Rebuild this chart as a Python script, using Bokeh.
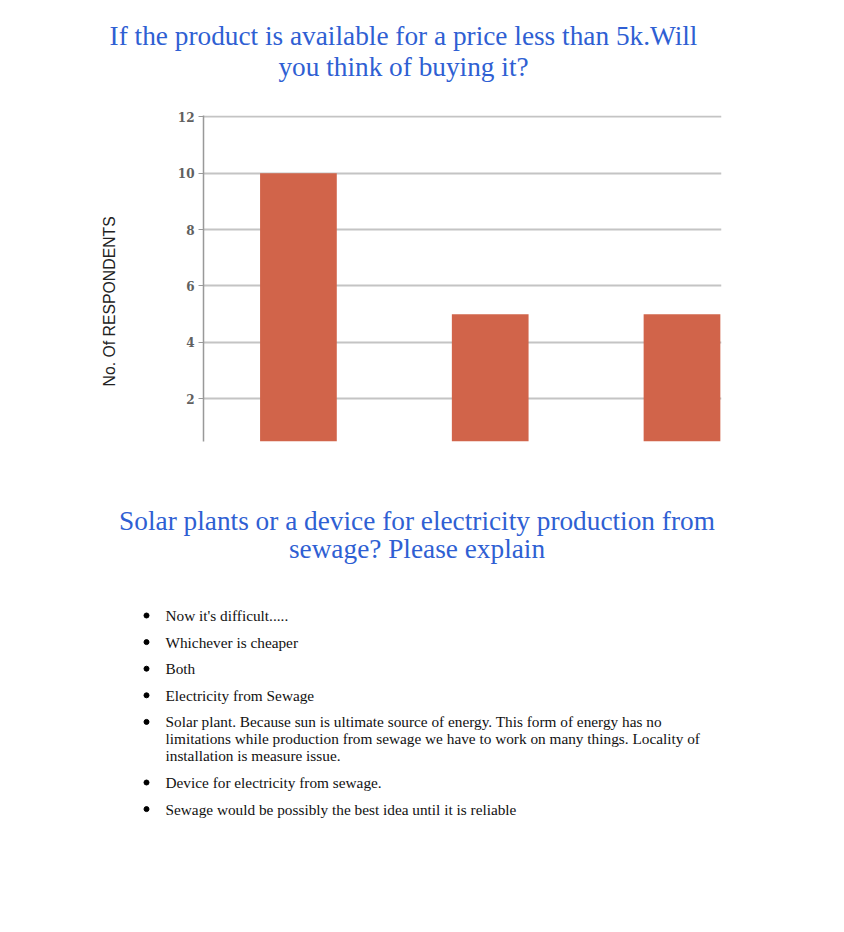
from bokeh.plotting import figure
from bokeh.models import Range1d, FixedTicker, Title
from bokeh.embed import file_html
from bokeh.resources import INLINE
from bokeh.core.properties import value

# ---------------- data ----------------
title1_lines = ["If the product is available for a price less than 5k.Will",
                "you think of buying it?"]
categories = ["Option 1", "Option 2", "Option 3"]
respondents = [10, 5, 5]
y_ticks = [2, 4, 6, 8, 10, 12]
y_label = "No. Of RESPONDENTS"
title2_lines = ["Solar plants or a device for electricity production from",
                "sewage? Please explain"]
answers = [
    ["Now it's difficult....."],
    ["Whichever is cheaper"],
    ["Both"],
    ["Electricity from Sewage"],
    ["Solar plant. Because sun is ultimate source of energy. This form of energy has no",
     "limitations while production from sewage we have to work on many things. Locality of",
     "installation is measure issue."],
    ["Device for electricity from sewage."],
    ["Sewage would be possibly the best idea until it is reliable"],
]

# ---------------- style ----------------
W = 844
BLUE = "#2f5fd3"
BAR = "#d1644a"
HEAD_FONT = value("Liberation Serif")
BODY_FONT = value("Liberation Serif")


def text_fig(h):
    f = figure(width=W, height=h, x_range=Range1d(0, W), y_range=Range1d(h, 0),
               x_axis_location=None, y_axis_location=None,
               output_backend="svg", toolbar_location=None, min_border=0)
    f.grid.visible = False
    f.outline_line_color = None
    return f


# ---- top title ----
H_TOP = 108
top = text_fig(H_TOP)
top.text(x=[403, 403], y=[35, 66], text=title1_lines, text_align="center",
         text_baseline="alphabetic", text_font=HEAD_FONT, text_font_size="27.3px",
         text_color=BLUE)

# ---- bar chart ----
H_CHART = 343
x_start, x_end = -0.495, 2.206
y_start, y_end = 0.48, 12.05
p = figure(width=W, height=H_CHART, x_range=Range1d(x_start, x_end),
           y_range=Range1d(y_start, y_end),
           min_border_left=203, min_border_right=123, min_border_top=7,
           min_border_bottom=10, x_axis_location=None,
           output_backend="svg", toolbar_location=None)
p.vbar(x=list(range(len(categories))), top=respondents, width=0.4, bottom=0,
       fill_color=BAR, line_color=None)
p.outline_line_color = None
p.xgrid.visible = False
p.ygrid.ticker = FixedTicker(ticks=y_ticks)
p.ygrid.grid_line_color = "#c4c4c4"
p.ygrid.grid_line_width = 2
ax = p.yaxis[0]
ax.ticker = FixedTicker(ticks=y_ticks)
ax.axis_line_color = "#999999"
ax.axis_line_width = 1.5
ax.major_tick_line_color = "#999999"
ax.major_tick_out = 5
ax.major_tick_in = 0
ax.minor_tick_line_color = None
ax.major_label_text_font = "DejaVu Serif"
ax.major_label_text_font_size = "12px"
ax.major_label_text_font_style = "bold"
ax.major_label_text_color = "#606060"
ax.major_label_standoff = 4

# y-axis title as a side title, shifted along the axis like the original
p.add_layout(Title(text=y_label, align="left", offset=55, standoff=114,
                   text_font="Liberation Sans", text_font_size="15.8px",
                   text_font_style="normal", text_color="#222222"), "left")

# ---- bottom: heading + bullet list ----
H_BOT = 932 - H_TOP - H_CHART
bot = text_fig(H_BOT)
bot.text(x=[416.5, 416.5], y=[69, 97], text=title2_lines, text_align="center",
         text_baseline="alphabetic", text_font=HEAD_FONT, text_font_size="27.3px",
         text_color=BLUE)

line_x, line_y, line_t = [], [], []
dot_y = []
y = 164
for item in answers:
    dot_y.append(y)
    for i, ln in enumerate(item):
        line_x.append(165)
        line_y.append(y)
        line_t.append(ln)
        y += 17
    y += 9.6
bot.scatter(x=[146] * len(dot_y), y=dot_y, size=5, marker="circle",
            fill_color="black", line_color="black")
bot.text(x=line_x, y=line_y, text=line_t, text_align="left",
         text_baseline="alphabetic", text_font=BODY_FONT, text_font_size="15.3px",
         text_color="#111111")

open("out.html", "w").write(file_html([top, p, bot], INLINE))
